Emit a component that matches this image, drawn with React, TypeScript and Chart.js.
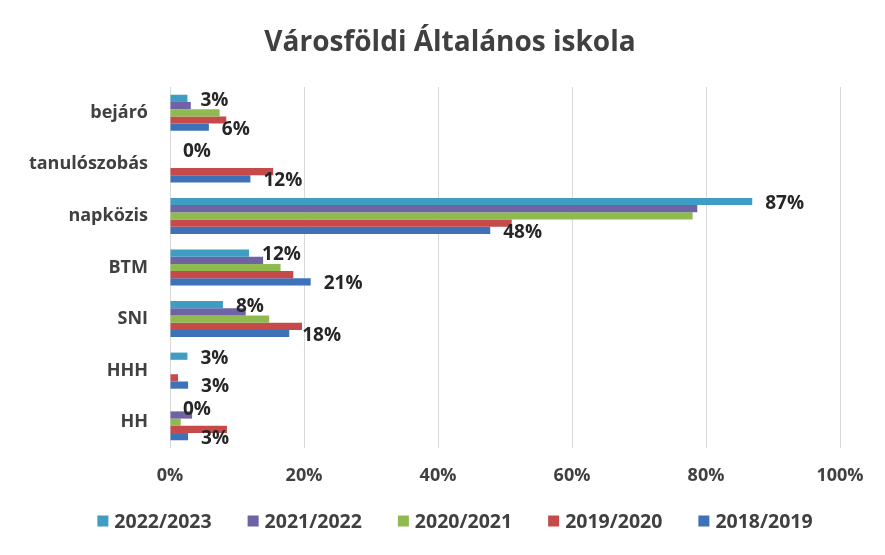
import React, { useEffect, useRef } from "react";
import { Chart, registerables } from "chart.js";

Chart.register(...registerables);

const categories = ["bejáró", "tanulószobás", "napközis", "BTM", "SNI", "HHH", "HH"];
const seriesNames = ["2022/2023", "2021/2022", "2020/2021", "2019/2020", "2018/2019"];
const colors = ["#3f9cc2", "#6f63a6", "#8fba4f", "#c64a4a", "#3d72b8"];

const v2022 = [2.6, 0, 86.9, 11.8, 7.9, 2.6, 0];
const v2021 = [3.1, 0, 78.7, 13.9, 11.3, 0, 3.3];
const v2020 = [7.4, 0, 78.0, 16.5, 14.8, 0, 1.6];
const v2019 = [8.4, 15.4, 51.0, 18.4, 19.7, 1.2, 8.5];
const v2018 = [5.8, 12.0, 47.8, 21.0, 17.8, 2.7, 2.7];

const seriesValues = [v2022, v2021, v2020, v2019, v2018];
const labeledSeries = [0, 4];
const xTicks = [0, 20, 40, 60, 80, 100];
const titleText = "Városföldi Általános iskola";

const FONT = "'Open Sans', 'Liberation Sans', sans-serif";
const TEXT = "#404040";

const labelPlugin = {
  id: "endLabels",
  afterDatasetsDraw(chart: any) {
    const ctx = chart.ctx;
    ctx.save();
    ctx.font = `bold 19px ${FONT}`;
    ctx.fillStyle = "#262626";
    ctx.textAlign = "left";
    ctx.textBaseline = "middle";
    labeledSeries.forEach((di) => {
      const meta = chart.getDatasetMeta(di);
      meta.data.forEach((bar: any, i: number) => {
        const val = seriesValues[di][i];
        ctx.fillText(Math.round(val) + "%", bar.x + 13, bar.y + 2);
      });
    });
    ctx.restore();
  },
};

const titleLegendPlugin = {
  id: "titleLegend",
  afterDraw(chart: any) {
    const ctx = chart.ctx;
    ctx.save();
    ctx.font = `bold 28px ${FONT}`;
    ctx.fillStyle = TEXT;
    ctx.textAlign = "center";
    ctx.textBaseline = "middle";
    ctx.fillText(titleText, 450, 43);
    ctx.font = `bold 19.5px ${FONT}`;
    const box = 11;
    const gap = 6;
    const spacing = 36;
    const widths = seriesNames.map((n) => box + gap + ctx.measureText(n).width);
    const total = widths.reduce((a, b) => a + b, 0) + spacing * (seriesNames.length - 1);
    let x = 455 - total / 2;
    const y = 521;
    ctx.textAlign = "left";
    seriesNames.forEach((n, i) => {
      ctx.fillStyle = colors[i];
      ctx.fillRect(x, y - box / 2, box, box);
      ctx.fillStyle = TEXT;
      ctx.fillText(n, x + box + gap, y + 1);
      x += widths[i] + spacing;
    });
    ctx.restore();
  },
};

export default function App() {
  const ref = useRef<HTMLCanvasElement>(null);
  useEffect(() => {
    document.body.style.margin = "0";
    const chart = new Chart(ref.current!, {
      type: "bar",
      data: {
        labels: categories,
        datasets: seriesNames.map((name, i) => ({
          label: name,
          data: seriesValues[i],
          backgroundColor: colors[i],
          borderWidth: 0,
          categoryPercentage: 0.7,
          barPercentage: 1.0,
        })),
      },
      options: {
        indexAxis: "y",
        animation: false,
        responsive: false,
        layout: { padding: { left: 0, right: 45, top: 87, bottom: 52 } },
        plugins: {
          title: { display: false },
          legend: { display: false },
          tooltip: { enabled: false },
        },
        scales: {
          x: {
            min: 0,
            max: 100,
            afterBuildTicks: (s: any) => {
              s.ticks = xTicks.map((v) => ({ value: v }));
            },
            afterFit: (s: any) => {
              s.height = 55;
            },
            ticks: {
              color: TEXT,
              font: { family: FONT, size: 18, weight: "bold" },
              padding: 17,
              callback: (v: any) => v + "%",
            },
            grid: { color: "#d9d9d9", drawTicks: false },
            border: { display: false },
          },
          y: {
            afterFit: (s: any) => {
              s.width = 170;
            },
            ticks: {
              color: TEXT,
              font: { family: FONT, size: 18, weight: "bold" },
              padding: 22,
            },
            grid: { display: false, drawTicks: false },
            border: { display: false },
          },
        },
      },
      plugins: [labelPlugin, titleLegendPlugin],
    });
    return () => chart.destroy();
  }, []);
  return <canvas ref={ref} width={885} height={555} style={{ display: "block" }} />;
}
